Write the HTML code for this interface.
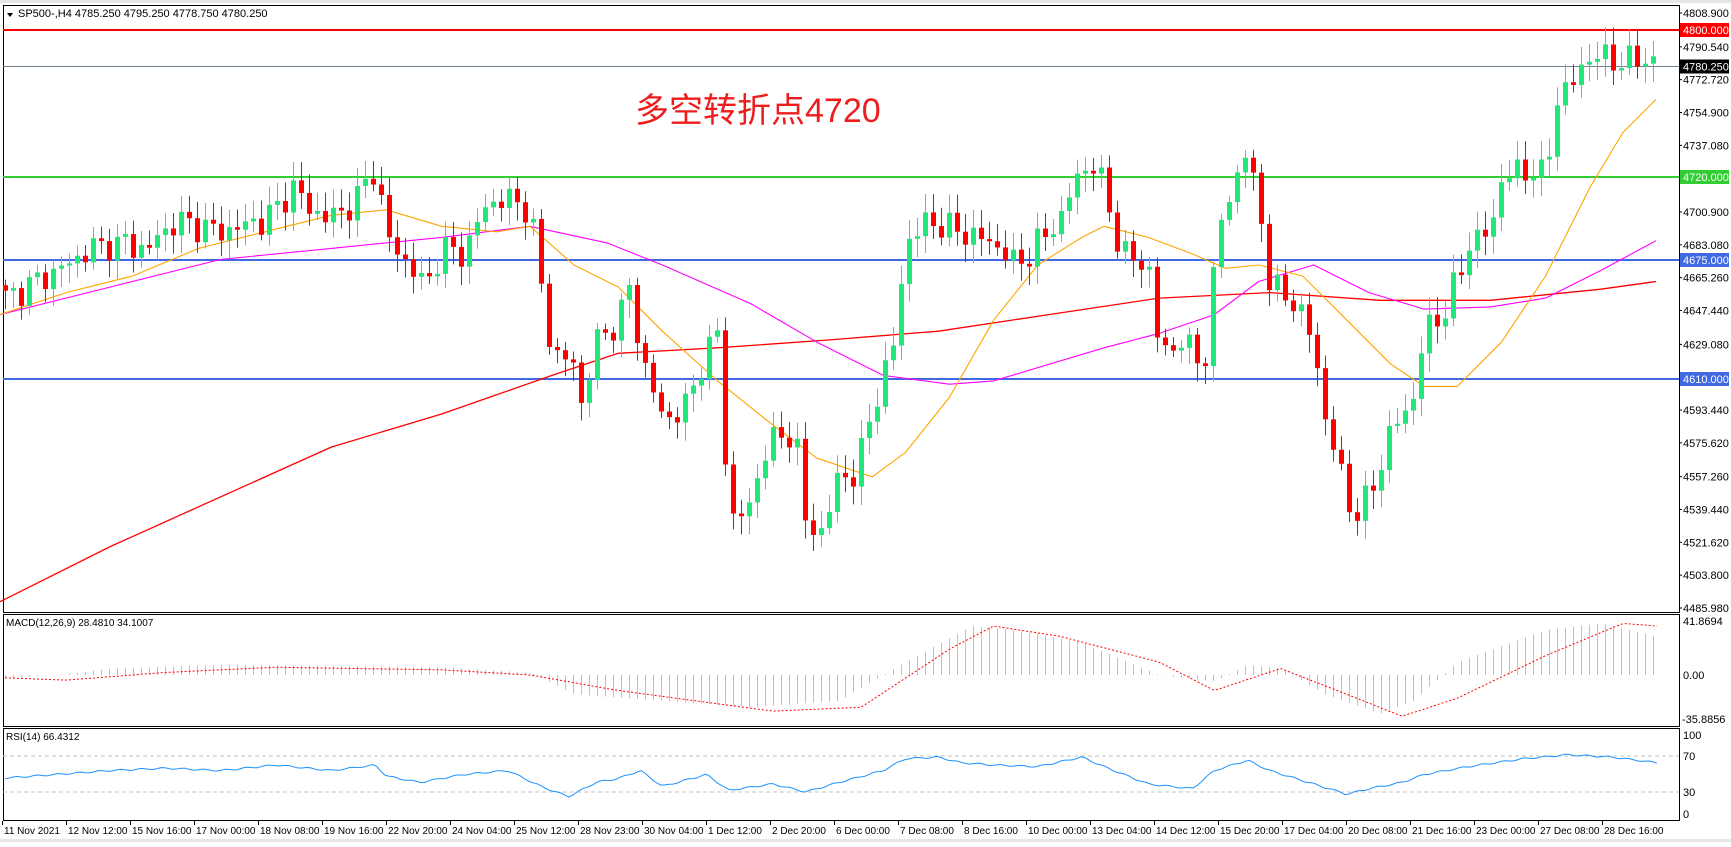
<!DOCTYPE html>
<html><head><meta charset="utf-8">
<style>
html,body{margin:0;padding:0;background:#fff;}
body{width:1731px;height:842px;overflow:hidden;position:relative;font-family:"Liberation Sans","Noto Sans CJK SC",sans-serif;}
svg text{font-family:"Liberation Sans","Noto Sans CJK SC",sans-serif;}
</style></head>
<body>
<svg id="s" width="1731" height="842" xmlns="http://www.w3.org/2000/svg">
<rect x="0" y="0" width="1731" height="842" fill="#fff"/>
<rect x="0" y="0" width="1731" height="3" fill="#e6e6e6"/>
<g id="g"></g>
</svg>
<script>
const S=1.104;
function interp(pts,x){ if(x<=pts[0][0])return pts[0][1]; for(let i=1;i<pts.length;i++){ if(x<=pts[i][0]){const a=pts[i-1],b=pts[i];return a[1]+(b[1]-a[1])*(x-a[0])/(b[0]-a[0]);}} return pts[pts.length-1][1];}
const yP=p=>13+(4808.9-p)*1.8425;
const pFromDispY=dy=>4808.9-(dy*S-13)/1.8425;
const price=[[5,270],[60,240],[90,220],[130,225],[160,200],[200,210],[240,200],[265,170],[290,200],[320,185],[340,150],[350,215],[370,240],[385,260],[400,225],[420,230],[440,185],[460,180],[480,190],[490,260],[500,320],[520,330],[525,370],[540,310],[560,290],[570,260],[580,320],[600,380],[620,370],[635,330],[650,300],[660,470],[680,460],[690,410],[700,400],[720,390],[730,480],[745,480],[760,430],[775,430],[790,370],[810,310],[820,220],[840,200],[870,210],[900,220],[920,240],[940,220],[960,200],[975,160],[990,150],[1000,170],[1015,230],[1040,240],[1050,320],[1070,310],[1090,330],[1105,200],[1120,160],[1128,140],[1140,180],[1150,260],[1170,270],[1190,310],[1200,380],[1215,430],[1225,470],[1240,450],[1260,390],[1280,360],[1290,300],[1310,280],[1330,220],[1350,210],[1360,160],[1380,155],[1400,160],[1410,90],[1430,65],[1440,50],[1460,55],[1480,55],[1500,55]];
const red=[[0,545],[100,495],[200,450],[300,405],[400,375],[500,340],[560,320],[650,315],[750,308],[850,300],[950,285],[1050,270],[1150,265],[1250,272],[1350,272],[1450,262],[1500,255]];
const mag=[[0,285],[100,260],[200,235],[300,225],[400,215],[480,205],[550,220],[600,240],[680,275],[740,310],[800,340],[860,348],[900,345],[1000,315],[1050,302],[1100,285],[1140,255],[1190,240],[1240,265],[1290,280],[1350,278],[1400,270],[1450,245],[1500,218]];
const ora=[[0,285],[60,265],[120,250],[180,225],[240,210],[300,195],[350,190],[400,205],[450,210],[480,205],[520,240],[560,260],[600,300],[650,345],[700,385],[740,415],[790,432],[820,410],[860,360],[900,290],[940,240],[980,215],[1000,205],[1040,215],[1080,230],[1110,243],[1140,240],[1180,250],[1220,290],[1260,330],[1290,350],[1320,350],[1360,310],[1400,250],[1440,170],[1470,120],[1500,90]];
const macd=[[0,-3],[50,0],[100,5],[200,8],[300,7],[400,6],[480,2],[520,-15],[600,-20],[680,-25],[760,-20],[820,10],[880,38],[920,35],[980,25],[1050,0],[1100,-5],[1130,8],[1160,5],[1200,-15],[1250,-30],[1280,-20],[1320,10],[1400,35],[1450,40],[1500,30]];
const sig=[[0,-2],[60,-4],[150,2],[250,6],[400,4],[480,0],[560,-12],[700,-28],[780,-25],[860,20],[900,38],[960,30],[1050,10],[1100,-12],[1160,5],[1220,-15],[1270,-32],[1320,-18],[1400,15],[1470,40],[1500,38]];
const rsi=[[0,45],[50,50],[100,55],[150,58],[200,55],[250,62],[300,55],[340,62],[350,48],[380,40],[420,50],[460,55],[490,35],[515,22],[540,40],[560,45],[580,55],[600,35],[640,50],[660,30],[700,38],[730,28],[760,40],[800,55],[820,70],[850,72],[870,65],[900,62],[940,60],[980,72],[1000,60],[1040,38],[1080,32],[1100,55],[1130,68],[1150,55],[1190,38],[1220,25],[1240,32],[1270,40],[1290,50],[1330,60],[1380,70],[1420,75],[1460,72],[1500,65]];
let h='';
const L=3,R=1679;
h+=`<rect x="${L}.5" y="5.5" width="${R-L}" height="607" fill="none" stroke="#000"/>`;
h+=`<rect x="${L}.5" y="614.5" width="${R-L}" height="112" fill="none" stroke="#000"/>`;
h+=`<rect x="${L}.5" y="728.5" width="${R-L}" height="92" fill="none" stroke="#000"/>`;
h+=`<line x1="${L}" x2="${R}" y1="30" y2="30" stroke="#ff0000" stroke-width="2"/>`;
h+=`<line x1="${L}" x2="${R}" y1="66.5" y2="66.5" stroke="#708090" stroke-width="1"/>`;
h+=`<line x1="${L}" x2="${R}" y1="177" y2="177" stroke="#32cd32" stroke-width="2"/>`;
h+=`<line x1="${L}" x2="${R}" y1="260" y2="260" stroke="#4169e1" stroke-width="2"/>`;
h+=`<line x1="${L}" x2="${R}" y1="379" y2="379" stroke="#4169e1" stroke-width="2"/>`;
function poly(pts,col,w,extra){let d=pts.map(p=>`${(p[0]*S).toFixed(1)},${(p[1]*S).toFixed(1)}`).join(' ');return `<polyline points="${d}" fill="none" stroke="${col}" stroke-width="${w}" stroke-linejoin="round" ${extra||''}/>`;}
h+=poly(red,'#ff0000',1.3);h+=poly(mag,'#ff00ff',1.1);h+=poly(ora,'#ffa500',1.1);
let prev=null;
for(let i=0;i<207;i++){
 const x=5+8*i; if(x>1660)break;
 const dx=x/S;
 let c=pFromDispY(interp(price,dx))+Math.sin(i*2.3)*5+Math.cos(i*1.7)*4;
 let o=prev===null?c+3:prev;
 if(Math.abs(c-o)<1)c=o+((i%2)?1.5:-1.5);
 const hi=Math.max(o,c)+3+Math.abs(Math.sin(i*3.1))*7;
 const lo=Math.min(o,c)-3-Math.abs(Math.cos(i*2.7))*7;
 const col=c>o?'#22e67a':'#ff0000';
 const yt=yP(Math.max(o,c)),yb=yP(Math.min(o,c));
 h+=`<line x1="${x+0.5}" x2="${x+0.5}" y1="${yP(hi)}" y2="${yP(lo)}" stroke="${col}" stroke-width="1"/>`;
 h+=`<rect x="${x-2}" y="${yt}" width="5" height="${Math.max(1,yb-yt)}" fill="${col}"/>`;
 prev=c;
 const mv=interp(macd,dx); const mz=675, ms=54/41.87;
 h+=`<line x1="${x+0.5}" x2="${x+0.5}" y1="${mz}" y2="${mz-mv*ms}" stroke="#c0c0c0" stroke-width="1"/>`;
}
{let d=[];for(let x=5;x<=1660;x+=4){d.push(`${x},${(675-interp(sig,x/S)*54/41.87).toFixed(1)}`);}h+=`<polyline points="${d.join(' ')}" fill="none" stroke="#ff0000" stroke-width="1" stroke-dasharray="2,2"/>`;}
h+=`<line x1="${L}" x2="${R}" y1="756" y2="756" stroke="#c0c0c0" stroke-dasharray="4,3"/>`;
h+=`<line x1="${L}" x2="${R}" y1="792" y2="792" stroke="#c0c0c0" stroke-dasharray="4,3"/>`;
{let d=[];for(let x=5;x<=1660;x+=4){d.push(`${x},${(814-interp(rsi,x/S)*0.79+Math.sin(x*0.3)*0.8).toFixed(1)}`);}h+=`<polyline points="${d.join(' ')}" fill="none" stroke="#1e90ff" stroke-width="1"/>`;}
const ticks=[4808.9,4790.54,4772.72,4754.9,4737.08,4720,4700.9,4683.08,4665.26,4647.44,4629.08,4610,4593.44,4575.62,4557.26,4539.44,4521.62,4503.8,4485.98];
const tl=['4808.900','4790.540','4772.720','4754.900','4737.080','4719.260','4700.900','4683.080','4665.260','4647.440','4629.080','4611.260','4593.440','4575.620','4557.260','4539.440','4521.620','4503.800','4485.980'];
ticks.forEach((t,i)=>{const y=yP(t);h+=`<line x1="${R}" x2="${R+3}" y1="${y}" y2="${y}" stroke="#000"/><text x="${R+4}" y="${y+4}" font-size="11" fill="#000">${tl[i]}</text>`;});
function box(y,bg,txt){h+=`<rect x="${R+1}" y="${y-7}" width="49" height="14" fill="${bg}"/><text x="${R+4}" y="${y+4}" font-size="11" fill="#fff">${txt}</text>`;}
box(30,'#ff0000','4800.000');box(66.5,'#000','4780.250');box(177,'#32cd32','4720.000');box(260,'#4169e1','4675.000');box(379,'#4169e1','4610.000');
h+=`<text x="${R+4}" y="625" font-size="11">41.8694</text><text x="${R+4}" y="679" font-size="11">0.00</text><text x="${R+3}" y="723" font-size="11">-35.8856</text>`;
h+=`<text x="${R+4}" y="739" font-size="11">100</text><text x="${R+4}" y="760" font-size="11">70</text><text x="${R+4}" y="796" font-size="11">30</text><text x="${R+4}" y="818" font-size="11">0</text>`;
h+=`<path d="M7,13 L13,13 L10,17 Z" fill="#000"/><text x="18" y="17" font-size="11">SP500-,H4  4785.250 4795.250 4778.750 4780.250</text>`;
h+=`<text x="6" y="626" font-size="10">MACD(12,26,9) 28.4810 34.1007</text>`;
h+=`<text x="6" y="740" font-size="10">RSI(14) 66.4312</text>`;
h+=`<text x="635" y="122" font-size="34" fill="#ee1c1c">多空转折点4720</text>`;
const tlab=['11 Nov 2021','12 Nov 12:00','15 Nov 16:00','17 Nov 00:00','18 Nov 08:00','19 Nov 16:00','22 Nov 20:00','24 Nov 04:00','25 Nov 12:00','28 Nov 23:00','30 Nov 04:00','1 Dec 12:00','2 Dec 20:00','6 Dec 00:00','7 Dec 08:00','8 Dec 16:00','10 Dec 00:00','13 Dec 04:00','14 Dec 12:00','15 Dec 20:00','17 Dec 04:00','20 Dec 08:00','21 Dec 16:00','23 Dec 00:00','27 Dec 08:00','28 Dec 16:00'];
tlab.forEach((t,i)=>{const x=2+64*i;h+=`<line x1="${x+0.5}" x2="${x+0.5}" y1="821" y2="825" stroke="#000"/><text x="${x+2}" y="834" font-size="10">${t}</text>`;});
h+=`<rect x="0" y="839" width="1731" height="3" fill="#e6e6e6"/>`;
document.getElementById('g').innerHTML=h;
</script>
</body></html>
